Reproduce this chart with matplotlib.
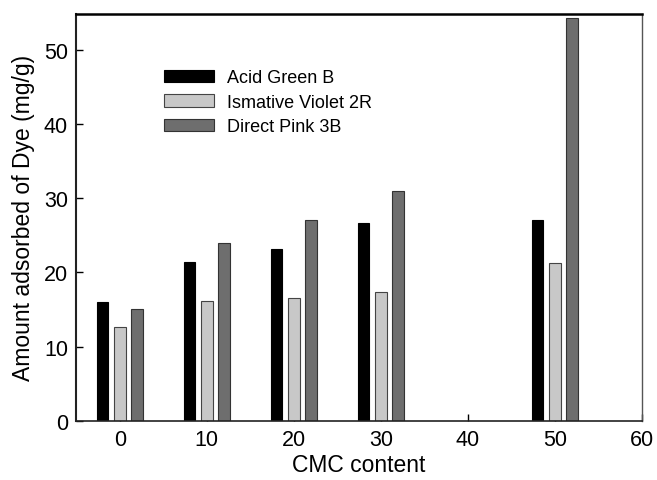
import numpy as np
import matplotlib
matplotlib.use('Agg')
import matplotlib.pyplot as plt

plt.rcParams['font.family'] = ['Liberation Sans', 'DejaVu Sans']

# データ
cmc = [0, 10, 20, 30, 50]
acid_green = [16.0, 21.4, 23.1, 26.6, 27.1]
ismative_violet = [12.6, 16.2, 16.6, 17.4, 21.2]
direct_pink = [15.0, 24.0, 27.0, 30.9, 54.2]
labels = ['Acid Green B', 'Ismative Violet 2R', 'Direct Pink 3B']

fig = plt.figure(figsize=(6.57, 4.81), dpi=100)
ax = fig.add_axes([0.116, 0.123, 0.861, 0.846])
ax.set_axisbelow(True)

x = np.array(cmc)
w = 1.33
ax.bar(x - 2, acid_green, w, color='#000000', edgecolor='#000000', linewidth=0.8, label=labels[0])
ax.bar(x, ismative_violet, w, color='#c8c8c8', edgecolor='#444444', linewidth=0.8, label=labels[1])
ax.bar(x + 2, direct_pink, w, color='#6e6e6e', edgecolor='#333333', linewidth=0.8, label=labels[2])

ax.set_xlim(-5, 60)
ax.set_ylim(0, 54.8)
ax.set_xticks([0, 10, 20, 30, 40, 50, 60])
ax.set_yticks([0, 10, 20, 30, 40, 50])
ax.tick_params(direction='in', length=5, width=1, labelsize=15.5, pad=6,
               top=False, right=False)

ax.spines['top'].set_linewidth(1.8)
ax.spines['left'].set_linewidth(1.5)
ax.spines['left'].set_color('#222222')
ax.spines['bottom'].set_linewidth(1.2)
ax.spines['bottom'].set_color('#222222')
ax.spines['right'].set_linewidth(1.0)
ax.spines['right'].set_color('#555555')

ax.set_xlabel('CMC content', fontsize=16.5, labelpad=2)
ax.set_ylabel('Amount adsorbed of Dye (mg/g)', fontsize=16.5, labelpad=6)

ax.legend(loc='upper left', bbox_to_anchor=(0.155, 0.864), frameon=False,
          fontsize=13, handlelength=2.8, handleheight=0.68, handletextpad=0.72,
          labelspacing=0.42, borderpad=0, borderaxespad=0)

plt.savefig('out.png', dpi=100)
